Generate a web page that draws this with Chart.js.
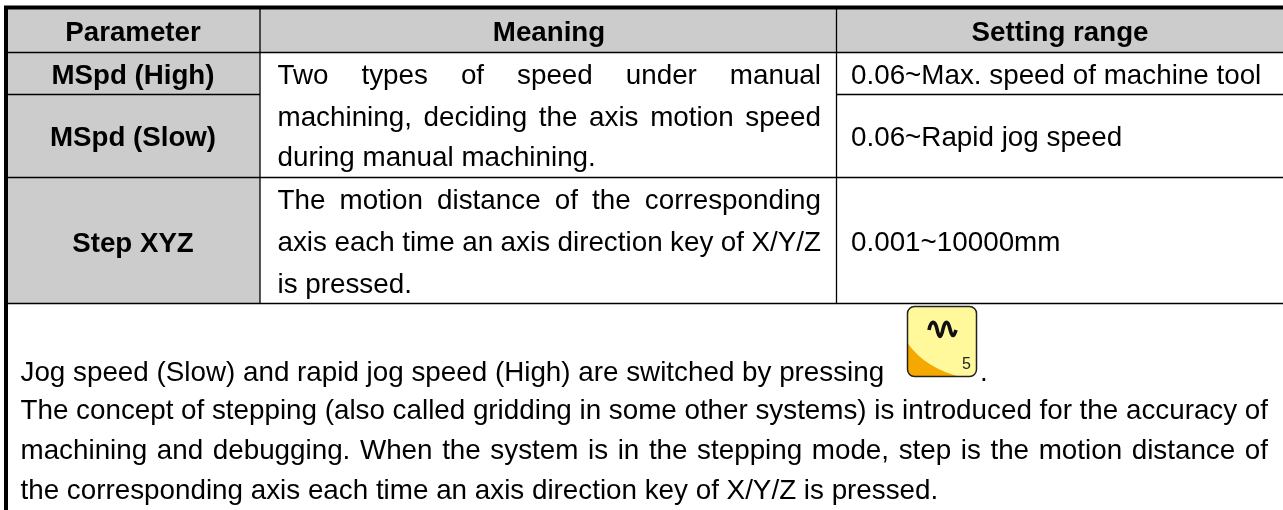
<!DOCTYPE html>
<html>
<head>
<meta charset="utf-8">
<title>Parameter table</title>
<script src="https://cdn.jsdelivr.net/npm/chart.js"></script>
<style>
  html, body { margin: 0; padding: 0; background: #fff; overflow: hidden; }
  canvas { display: block; }
</style>
</head>
<body>
<canvas id="tableChart" width="1283" height="510"></canvas>
<script>
// table text
const headers = ['Parameter', 'Meaning', 'Setting range'];
const parameterNames = ['MSpd (High)', 'MSpd (Slow)', 'Step XYZ'];
const rangeTexts = ['0.06~Max. speed of machine tool', '0.06~Rapid jog speed', '0.001~10000mm'];
const meaningLines = [
  'Two types of speed under manual',
  'machining, deciding the axis motion speed',
  'during manual machining.',
  'The motion distance of the corresponding',
  'axis each time an axis direction key of X/Y/Z',
  'is pressed.'
];
const noteLines = [
  'Jog speed (Slow) and rapid jog speed (High) are switched by pressing',
  'The concept of stepping (also called gridding in some other systems) is introduced for the accuracy of',
  'machining and debugging. When the system is in the stepping mode, step is the motion distance of',
  'the corresponding axis each time an axis direction key of X/Y/Z is pressed.'
];
const keyLabel = '5';

// table geometry, in scale units
const columnEdges = [8, 260, 836.5, 1283];
const rowEdges = [8, 52.5, 94.5, 177.5, 303.5];
const headerBaseline = 41;
const parameterBaselines = [84, 146, 252];
const rangeBaselines = [83.5, 146, 251];
const meaningBaselines = [84, 126, 166, 209, 251, 293];
const meaningJustified = [true, true, false, true, true, false];
const noteBaselines = [381, 419, 459, 499];
const noteJustified = [false, true, true, false];

const FONT = '"Liberation Sans", Arial, sans-serif';
const TEXT_SIZE = 27.8;
const BOLD_SIZE = 27.7;

function rule(x1, y1, x2, y2, width) {
  return {
    type: 'line',
    data: [{ x: x1, y: y1 }, { x: x2, y: y2 }],
    borderColor: '#000',
    borderWidth: width,
    pointRadius: 0,
    fill: false,
    order: 0
  };
}

function greyEdge(x1, x2, y, fill) {
  return {
    type: 'line',
    data: [{ x: x1, y: y }, { x: x2, y: y }],
    borderWidth: 0,
    pointRadius: 0,
    backgroundColor: '#cccccc',
    fill: fill,
    order: 5
  };
}

const datasets = [
  // grey cells, each one filled between two edges
  greyEdge(columnEdges[0], columnEdges[1], rowEdges[0], '+1'),
  greyEdge(columnEdges[0], columnEdges[1], rowEdges[4], false),
  greyEdge(columnEdges[1], columnEdges[3], rowEdges[0], '+1'),
  greyEdge(columnEdges[1], columnEdges[3], rowEdges[1], false),
  // outer rules
  rule(4, 7.5, 1283, 7.5, 4),
  rule(6, 6, 6, 510, 4),
  // inner rules
  rule(columnEdges[0], rowEdges[1], columnEdges[3], rowEdges[1], 1.3),
  rule(columnEdges[0], rowEdges[2], columnEdges[1], rowEdges[2], 1.3),
  rule(columnEdges[2], rowEdges[2], columnEdges[3], rowEdges[2], 1.3),
  rule(columnEdges[0], rowEdges[3], columnEdges[3], rowEdges[3], 1.3),
  rule(columnEdges[0], rowEdges[4], columnEdges[3], rowEdges[4], 1.3),
  rule(columnEdges[1], rowEdges[0], columnEdges[1], rowEdges[4], 1.3),
  rule(columnEdges[2], rowEdges[0], columnEdges[2], rowEdges[4], 1.3)
];

// spreads the words of a line between two x positions, like justified text
function drawJustified(ctx, text, left, right, y) {
  const words = text.split(' ');
  let used = 0;
  words.forEach(w => { used += ctx.measureText(w).width; });
  const gap = (right - left - used) / (words.length - 1);
  let x = left;
  words.forEach(w => {
    ctx.fillText(w, x, y);
    x += ctx.measureText(w).width + gap;
  });
}

function drawKey(ctx, sx, sy) {
  const left = sx(907.5), top = sy(306.5), w = 69, h = 70;

  ctx.save();
  ctx.beginPath();
  ctx.roundRect(left, top, w, h, 7);
  ctx.fillStyle = '#fff99c';
  ctx.fill();
  ctx.clip();
  ctx.beginPath();
  ctx.moveTo(left, sy(343));
  ctx.quadraticCurveTo(sx(925), sy(368), sx(961), sy(377));
  ctx.lineTo(left, sy(377));
  ctx.closePath();
  ctx.fillStyle = '#f5a800';
  ctx.fill();
  ctx.restore();

  ctx.beginPath();
  ctx.roundRect(left, top, w, h, 7);
  ctx.strokeStyle = '#222';
  ctx.lineWidth = 1.5;
  ctx.stroke();

  // wave symbol
  ctx.beginPath();
  ctx.moveTo(sx(929), sy(330));
  ctx.bezierCurveTo(sx(931), sy(320), sx(935), sy(320), sx(937), sy(329));
  ctx.bezierCurveTo(sx(939), sy(339), sx(941), sy(339), sx(943), sy(329));
  ctx.bezierCurveTo(sx(945), sy(320), sx(948), sy(320), sx(950), sy(329));
  ctx.bezierCurveTo(sx(952), sy(338), sx(954), sy(337), sx(956), sy(330));
  ctx.strokeStyle = '#111';
  ctx.lineWidth = 3.6;
  ctx.stroke();

  ctx.fillStyle = '#222';
  ctx.textAlign = 'center';
  ctx.font = '16px ' + FONT;
  ctx.fillText(keyLabel, sx(966.5), sy(369));
}

const tableText = {
  id: 'tableText',
  afterDatasetsDraw(chart) {
    const ctx = chart.ctx;
    const sx = v => chart.scales.x.getPixelForValue(v);
    const sy = v => chart.scales.y.getPixelForValue(v);
    const headerCentres = [133, 549, 1060];
    const bold = 'bold ' + BOLD_SIZE + 'px ' + FONT;
    const regular = TEXT_SIZE + 'px ' + FONT;

    ctx.save();
    ctx.fillStyle = '#000';
    ctx.textBaseline = 'alphabetic';

    ctx.font = bold;
    ctx.textAlign = 'center';
    headers.forEach((h, i) => ctx.fillText(h, sx(headerCentres[i]), sy(headerBaseline)));
    parameterNames.forEach((p, i) => ctx.fillText(p, sx(headerCentres[0]), sy(parameterBaselines[i])));

    ctx.font = regular;
    ctx.textAlign = 'left';
    rangeTexts.forEach((r, i) => ctx.fillText(r, sx(851), sy(rangeBaselines[i])));

    meaningLines.forEach((m, i) => {
      if (meaningJustified[i]) drawJustified(ctx, m, sx(277.5), sx(821), sy(meaningBaselines[i]));
      else ctx.fillText(m, sx(277.5), sy(meaningBaselines[i]));
    });

    noteLines.forEach((n, i) => {
      if (noteJustified[i]) drawJustified(ctx, n, sx(20.5), sx(1268), sy(noteBaselines[i]));
      else ctx.fillText(n, sx(20.5), sy(noteBaselines[i]));
    });
    ctx.fillText('.', sx(980), sy(noteBaselines[0]));

    drawKey(ctx, sx, sy);
    ctx.restore();
  }
};

new Chart(document.getElementById('tableChart'), {
  type: 'line',
  data: { datasets: datasets },
  options: {
    responsive: false,
    animation: false,
    parsing: false,
    layout: { padding: 0 },
    plugins: { legend: { display: false }, tooltip: { enabled: false }, title: { display: false } },
    scales: {
      x: { type: 'linear', display: false, min: 0, max: 1283 },
      y: { type: 'linear', display: false, min: 0, max: 510, reverse: true }
    }
  },
  plugins: [tableText]
});
</script>
</body>
</html>
